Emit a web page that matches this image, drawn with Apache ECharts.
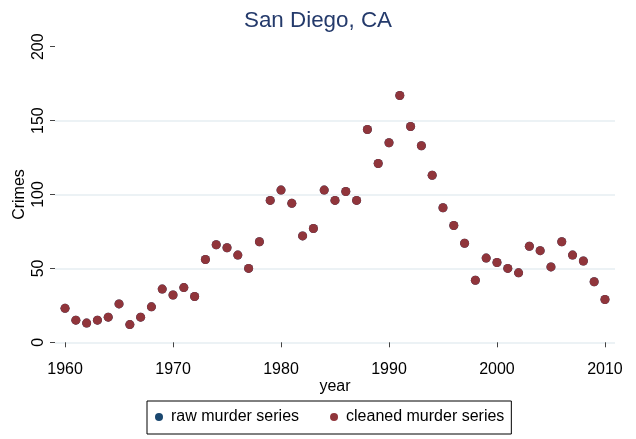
<!DOCTYPE html>
<html>
<head>
<meta charset="utf-8">
<script src="https://cdn.jsdelivr.net/npm/echarts@6/dist/echarts.min.js"></script>
<style>
html,body{margin:0;padding:0;background:#fff;}
#chart{width:636px;height:439px;}
</style>
</head>
<body>
<div id="chart"></div>
<script>
var years = [1960,1961,1962,1963,1964,1965,1966,1967,1968,1969,1970,1971,1972,1973,1974,1975,1976,1977,1978,1979,1980,1981,1982,1983,1984,1985,1986,1987,1988,1989,1990,1991,1992,1993,1994,1995,1996,1997,1998,1999,2000,2001,2002,2003,2004,2005,2006,2007,2008,2009,2010];
var rawMurders = [23,15,13,15,17,26,12,17,24,36,32,37,31,56,66,64,59,50,68,96,103,94,72,77,103,96,102,96,144,121,135,167,146,133,113,91,79,67,42,57,54,50,47,65,62,51,68,59,55,41,29];
var cleanedMurders = [23,15,13,15,17,26,12,17,24,36,32,37,31,56,66,64,59,50,68,96,103,94,72,77,103,96,102,96,144,121,135,167,146,133,113,91,79,67,42,57,54,50,47,65,62,51,68,59,55,41,29];
var yTicks = [0,50,100,150,200];
var yGrid = [0,50,100,150];
var xTicks = [1960,1970,1980,1990,2000,2010];
var titleText = 'San Diego, CA';
var seriesNames = ['raw murder series','cleaned murder series'];

function pairs(xs, ys){ return xs.map(function(x,i){ return [x, ys[i]]; }); }

var chart = echarts.init(document.getElementById('chart'), null, {renderer:'canvas'});
var font = 'Liberation Sans, Arial, Helvetica, sans-serif';
chart.setOption({
  animation:false,
  backgroundColor:'#ffffff',
  title:{text:titleText, left:'center', top:5,
    textStyle:{color:'#243a6b', fontSize:22.4, fontWeight:'normal', fontFamily:font}},
  grid:{left:55, right:21, top:36.7, bottom:86.7, containLabel:false, outerBoundsMode:'none'},
  legend:{
    data:seriesNames, left:147, top:401, orient:'horizontal',
    icon:'circle', itemWidth:8, itemHeight:8, itemGap:31,
    borderColor:'#000', borderWidth:1, padding:[8,7,9,8],
    textStyle:{fontSize:16, color:'#000', fontFamily:font, padding:[0,0,0,3]}
  },
  xAxis:{
    type:'value', min:1959.07, max:2010.93,
    name:'year', nameLocation:'middle', nameGap:26, nameMoveOverlap:false,
    nameTextStyle:{fontSize:16, color:'#000', fontFamily:font},
    axisLine:{show:false},
    axisTick:{show:true, length:5, customValues:xTicks, lineStyle:{color:'#444'}},
    axisLabel:{customValues:xTicks, margin:9, fontSize:16, color:'#000', fontFamily:font,
      formatter:function(v){return String(v);}},
    splitLine:{show:false}
  },
  yAxis:{
    type:'value', min:-6.76, max:206.76,
    name:'Crimes', nameLocation:'middle', nameGap:27, nameRotate:90, nameMoveOverlap:false,
    nameTextStyle:{fontSize:16, color:'#000', fontFamily:font},
    axisLine:{show:false},
    axisTick:{show:true, length:5, customValues:yTicks, lineStyle:{color:'#444'}},
    axisLabel:{customValues:yTicks, rotate:90, margin:8, fontSize:16, color:'#000', fontFamily:font,
      formatter:function(v){return String(v);}},
    splitLine:{show:false}
  },
  series:[
    {name:seriesNames[0], type:'scatter', symbol:'circle', symbolSize:9,
     itemStyle:{color:'#1a476f', opacity:1}, data:pairs(years, rawMurders),
     markLine:{silent:true, symbol:['none','none'], label:{show:false}, z:0,
       lineStyle:{color:'#e6eef2', width:1.5, type:'solid', opacity:1},
       emphasis:{disabled:true},
       data:yGrid.map(function(v){return {yAxis:v};})}},
    {name:seriesNames[1], type:'scatter', symbol:'circle', symbolSize:9,
     itemStyle:{color:'#90353b', opacity:1}, data:pairs(years, cleanedMurders)}
  ]
});
</script>
</body>
</html>
